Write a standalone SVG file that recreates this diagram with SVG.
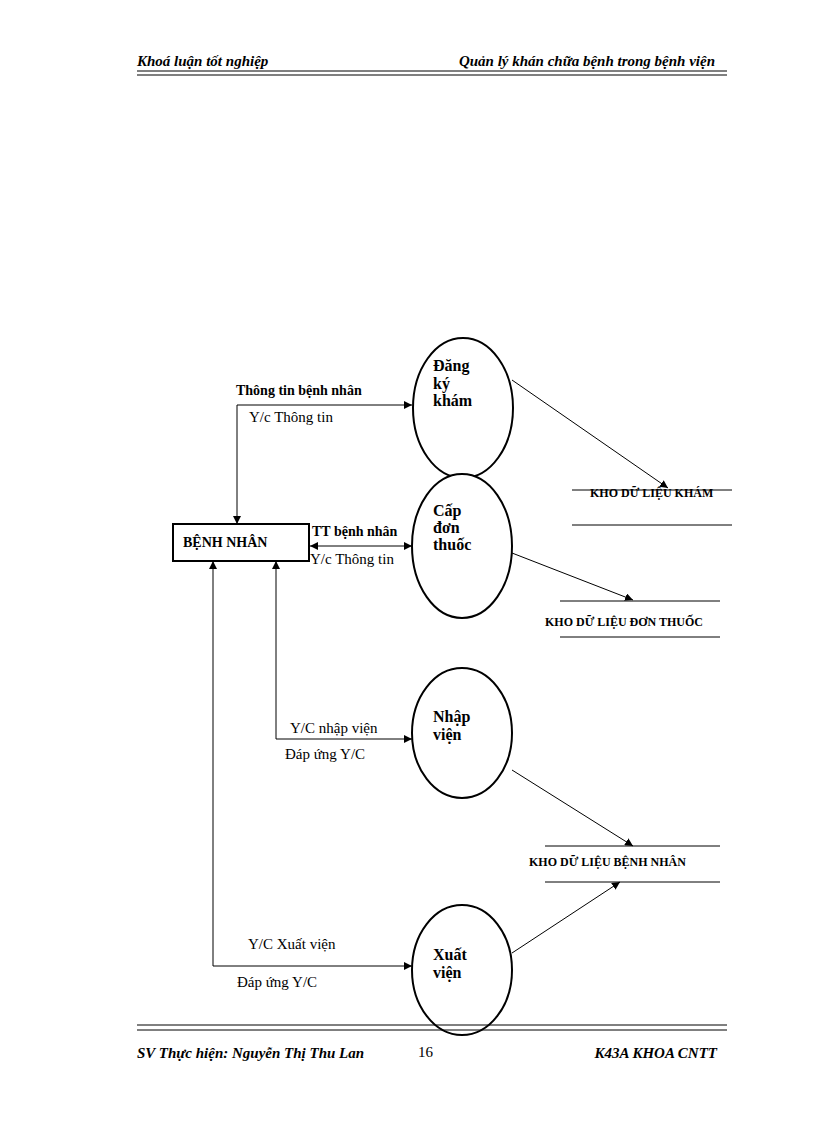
<svg xmlns="http://www.w3.org/2000/svg" width="816" height="1123" viewBox="0 0 816 1123">
<defs>
<marker id="a" markerWidth="8" markerHeight="8" refX="8" refY="4" orient="auto" markerUnits="userSpaceOnUse"><path d="M0,0 L8,4 L0,8 z" fill="#000"/></marker>
<marker id="s" markerWidth="8" markerHeight="8" refX="0" refY="4" orient="auto" markerUnits="userSpaceOnUse"><path d="M8,0 L0,4 L8,8 z" fill="#000"/></marker>
</defs>
<style>
text{font-family:"Liberation Serif",serif;fill:#000}
.l{font-size:15px}
.b{font-size:14px;font-weight:bold}
.p{font-size:16px;font-weight:bold}
.k{font-size:12px;font-weight:bold}
.h{font-size:15px;font-weight:bold;font-style:italic}
line,polyline,path.c{stroke:#000;stroke-width:1;fill:none}
ellipse{fill:#fff;stroke:#000;stroke-width:2}
</style>
<rect width="816" height="1123" fill="#fff"/>
<g id="header">
<text class="h" x="137" y="66">Khoá luận tốt nghiệp</text>
<text class="h" x="715" y="66" text-anchor="end">Quản lý khán chữa bệnh trong bệnh viện</text>
<line x1="137" y1="71" x2="727" y2="71" stroke-width="3"/>
<line x1="137" y1="75" x2="727" y2="75"/>
</g>
<g id="connectors">
<polyline points="412,405 237,405 237,524" marker-start="url(#s)" marker-end="url(#a)"/>
<line x1="310" y1="546" x2="412" y2="546" marker-start="url(#s)" marker-end="url(#a)"/>
<polyline points="276,561 276,739 412,739" marker-start="url(#s)" marker-end="url(#a)"/>
<polyline points="213,561 213,966 412,966" marker-start="url(#s)" marker-end="url(#a)"/>
<line x1="512" y1="380" x2="668" y2="488" marker-end="url(#a)"/>
<line x1="512" y1="553" x2="633" y2="600" marker-end="url(#a)"/>
<line x1="512" y1="770" x2="633" y2="846" marker-end="url(#a)"/>
<line x1="512" y1="953" x2="620" y2="882" marker-end="url(#a)"/>
<text class="b" x="236" y="395">Thông tin bệnh nhân</text>
<text class="l" x="249" y="422">Y/c Thông tin</text>
<text class="b" x="312" y="536">TT bệnh nhân</text>
<text class="l" x="310" y="564">Y/c Thông tin</text>
<text class="l" x="290" y="733">Y/C nhập viện</text>
<text class="l" x="285" y="759">Đáp ứng Y/C</text>
<text class="l" x="248" y="949">Y/C Xuất viện</text>
<text class="l" x="237" y="987">Đáp ứng Y/C</text>
</g>
<g id="benhnhan">
<rect x="173" y="524" width="136" height="37" fill="#fff" stroke="#000" stroke-width="2"/>
<text class="b" x="183" y="547">BỆNH NHÂN</text>
</g>
<g id="dangky">
<ellipse cx="463" cy="408" rx="50" ry="70"/>
<text class="p" x="433" y="371">Đăng</text>
<text class="p" x="433" y="389">ký</text>
<text class="p" x="433" y="406">khám</text>
</g>
<g id="capdon">
<ellipse cx="462" cy="546" rx="50" ry="72"/>
<text class="p" x="433" y="516">Cấp</text>
<text class="p" x="433" y="533">đơn</text>
<text class="p" x="433" y="550">thuốc</text>
</g>
<g id="nhapvien">
<ellipse cx="462" cy="733" rx="50" ry="65"/>
<text class="p" x="433" y="722">Nhập</text>
<text class="p" x="433" y="740">viện</text>
</g>
<g id="xuatvien">
<ellipse cx="462" cy="970" rx="50" ry="65"/>
<text class="p" x="433" y="960">Xuất</text>
<text class="p" x="433" y="978">viện</text>
</g>
<g id="khokham">
<line x1="572" y1="490" x2="732" y2="490"/>
<line x1="572" y1="525" x2="732" y2="525"/>
<text class="k" x="590" y="497">KHO DỮ LIỆU KHÁM</text>
</g>
<g id="khodon">
<line x1="560" y1="601" x2="720" y2="601"/>
<line x1="560" y1="637" x2="720" y2="637"/>
<text class="k" x="545" y="626">KHO DỮ LIỆU ĐƠN THUỐC</text>
</g>
<g id="khobn">
<line x1="545" y1="846" x2="720" y2="846"/>
<line x1="545" y1="882" x2="720" y2="882"/>
<text class="k" x="529" y="866">KHO DỮ LIỆU BỆNH NHÂN</text>
</g>
<g id="footer">
<line x1="137" y1="1025" x2="727" y2="1025" stroke-width="3"/>
<line x1="137" y1="1030" x2="727" y2="1030"/>
<text class="h" x="137" y="1058">SV Thực hiện: Nguyễn Thị Thu Lan</text>
<text class="l" x="418" y="1057">16</text>
<text class="h" x="717" y="1058" text-anchor="end">K43A KHOA CNTT</text>
</g>
</svg>
